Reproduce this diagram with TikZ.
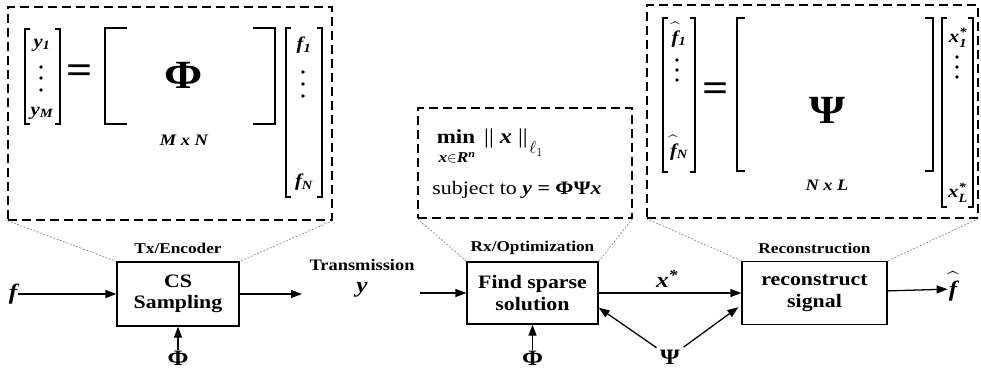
\documentclass[tikz,border=0pt]{standalone}
\usepackage{amsmath}
\usepackage{fontspec}
\setmainfont{Liberation Serif}[FakeStretch=1.15]
\usetikzlibrary{arrows.meta,calc}

% pair of square brackets: left x, right x, top y, bottom y, tick length
\newcommand\drawbrackets[5]{%
  \draw[brk] ({#1+#5},#3) -- (#1,#3) -- (#1,#4) -- ({#1+#5},#4);
  \draw[brk] ({#2-#5},#3) -- (#2,#3) -- (#2,#4) -- ({#2-#5},#4);}
% three stacked dots of a column vector
\newcommand\colvdots[4]{%
  \fill (#1,#2) circle (1.9pt) (#1,#3) circle (1.9pt) (#1,#4) circle (1.9pt);}
% bold italic letter with a wide hat lifted clear of it
\newcommand\hatted[1]{\ooalign{\bfseries\itshape #1\cr
  \hidewidth\raisebox{3.5pt}{$\widehat{\phantom{\text{\bfseries\itshape #1}}}$}\hidewidth\cr}}

\tikzset{
  blk/.style={draw, line width=1.3pt, inner sep=0pt, align=center,
    font=\fontsize{19}{21.5}\selectfont\bfseries},
  lbl/.style={inner sep=1pt, font=\fontsize{15}{17}\selectfont\bfseries},
  var/.style={inner sep=1pt, font=\fontsize{22}{24}\selectfont\bfseries\itshape},
  sym/.style={inner sep=1pt, font=\fontsize{22}{24}\selectfont\bfseries},
  entry/.style={inner sep=0pt, font=\fontsize{18}{20}\selectfont\bfseries\itshape},
  bigsym/.style={inner sep=0pt, font=\fontsize{40}{42}\selectfont\bfseries},
  dimtxt/.style={inner sep=0pt, font=\fontsize{16}{18}\selectfont\bfseries\itshape},
  zoombox/.style={draw, dash pattern=on 9pt off 5pt, line width=1.2pt, inner sep=0pt},
  lead/.style={gray, dash pattern=on 2pt off 1.5pt, line width=0.6pt},
  arr/.style={line width=1.3pt, -{Triangle[length=11pt,width=8pt]}},
  brk/.style={line width=1.2pt},
}

\begin{document}
\begin{tikzpicture}[x=1pt, y=-1pt]
\useasboundingbox (0,0) rectangle (981,375);

% ---------- processing blocks ----------
\node[blk, minimum width=122pt, minimum height=64pt] (cs) at (178,294) {CS\\Sampling};
\node[blk, minimum width=131pt, minimum height=62pt] (find) at (532.5,293) {Find sparse\\solution};
\node[blk, minimum width=145pt, minimum height=63pt] (recon) at (814.5,293) {reconstruct\\signal};

\node[lbl] (lblA) at (178,248) {Tx/Encoder};
\node[lbl] (lblB) at (532.5,248) {Rx/Optimization};
\node[lbl] (lblC) at (814.5,248) {Reconstruction};

% ---------- signals ----------
\node[var] (f) at (13,294) {f};
\draw[arr] (f) -- (cs);
\coordinate (txout) at (302,294);
\draw[arr] (cs) -- (txout);

\node[lbl, font=\fontsize{16}{18}\selectfont\bfseries] (trans) at (362,265) {Transmission};
\node[var] (ych) at (362,290) {y};
\coordinate (rxin) at (420,293);
\draw[arr] (rxin) -- (find);

\node[var] (xstar) at (667,279) {x$^{\text{\bfseries *}}$};
\draw[arr] (find) -- (recon);

\node[var] (fhat) at (953,289) {\hatted{f}};
\draw[arr] (recon) -- (fhat);

\node[sym] (phiA) at (178,358) {Φ};
\draw[arr] (phiA) -- (cs);
\node[sym] (phiB) at (532.5,358) {Φ};
\draw[arr] (phiB) -- (find);

\node[sym] (psi) at (670,357) {Ψ};
\draw[arr, shorten <=3pt] (psi) -- ($(find.south east)+(0,-17)$);
\draw[arr, shorten <=3pt] (psi) -- ($(recon.south west)+(-3,-18)$);

% ---------- detail panels ----------
\node[zoombox, minimum width=324pt, minimum height=213pt] (zA) at (170,113.5) {};
\node[zoombox, minimum width=214pt, minimum height=110pt] (zB) at (525,163) {};
\node[zoombox, minimum width=331pt, minimum height=213pt] (zC) at (812.5,111.5) {};

\draw[lead] (zA.south west) -- (cs.north west);
\draw[lead] (zA.south east) -- (cs.north east);
\draw[lead] (zB.south west) -- (find.north west);
\draw[lead] (zB.south east) -- (find.north east);
\draw[lead] (zC.south west) -- (recon.north west);
\draw[lead] (zC.south east) -- (recon.north east);

% sampling: y = Phi f
\drawbrackets{25}{60}{29}{124}{5}
\node[entry] (y1) at (42,45) {y\textsubscript{1}};
\colvdots{41}{67}{78}{90}
\node[entry] (yM) at (42,113) {y\textsubscript{M}};
\node[bigsym] (eqA) at (80,74) {=};
\drawbrackets{105}{275}{28}{124}{22}
\node[bigsym] (phiM) at (184,75) {Φ};
\node[dimtxt] (dimA) at (184,140) {M x N};
\drawbrackets{286}{322}{28}{197}{5}
\node[entry] (f1) at (304,45) {f\textsubscript{1}};
\colvdots{303}{72}{84}{96}
\node[entry] (fN) at (304,182) {f\textsubscript{N}};

% optimisation problem
\node[inner sep=0pt, font=\fontsize{20}{22}\selectfont\bfseries] (minw) at (456,137) {min};
\node[inner sep=0pt, font=\fontsize{15}{17}\selectfont\bfseries\itshape] (minsub) at (457,158) {x$\in$R\textsuperscript{n}};
\node[inner sep=0pt, anchor=west, font=\fontsize{21}{23}\selectfont] (norm) at (484,138) {|| \textbf{\textit{x}} ||};
\node[inner sep=0pt, font=\fontsize{17}{19}\selectfont] (ell) at (536,149) {$\ell_1$};
\node[inner sep=0pt, font=\fontsize{19}{21}\selectfont] (subj) at (517,190)
  {subject to \textbf{\textit{y}} \textbf{= ΦΨ\textit{x}}};

% reconstruction: f_hat = Psi x*
\drawbrackets{663}{695}{18}{172}{5}
\node[entry] (fh1) at (679,38) {\hatted{f}\textsubscript{1}};
\colvdots{677}{60}{70}{80}
\node[entry] (fhN) at (679,151) {\hatted{f}\textsubscript{N}};
\node[bigsym] (eqC) at (716,92) {=};
\drawbrackets{737}{933}{18}{171}{8}
\node[bigsym] (psiM) at (827,110) {Ψ};
\node[dimtxt] (dimC) at (827,185) {N x L};
\drawbrackets{942}{973}{18}{207}{5}
\node[entry] (xs1) at (958,38) {x$^{\text{\bfseries *}}_{\text{\bfseries\itshape 1}}$};
\colvdots{957}{57}{67}{77}
\node[entry] (xsL) at (958,193) {x$^{\text{\bfseries *}}_{\text{\bfseries\itshape L}}$};

\end{tikzpicture}
\end{document}
